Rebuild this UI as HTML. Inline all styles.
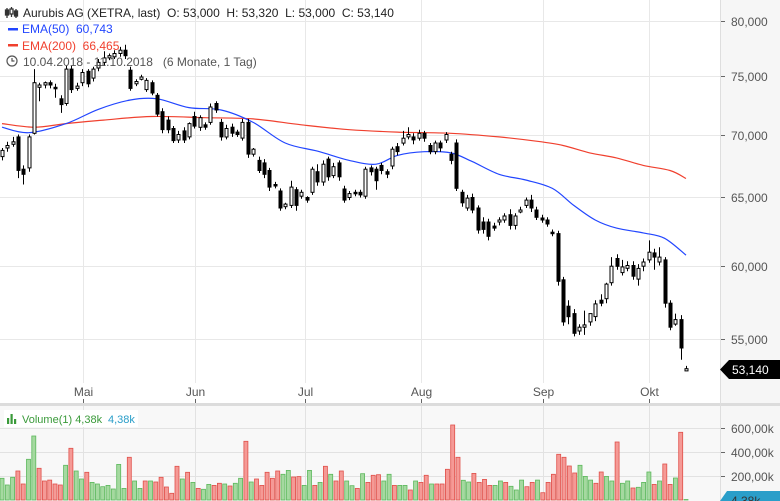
<!DOCTYPE html>
<html><head><meta charset="utf-8"><style>
body{margin:0;background:#fff;}
svg{display:block;font-family:"Liberation Sans",sans-serif;}
</style></head><body>
<svg id="chart" width="780" height="501" viewBox="0 0 780 501" xmlns="http://www.w3.org/2000/svg">
<rect x="0" y="0" width="780" height="501" fill="#fff"/>
<rect x="720" y="0" width="60" height="403" fill="#f6f6f6"/>
<rect x="0" y="406" width="720" height="95" fill="#f8f8f8"/>
<rect x="720" y="406" width="60" height="95" fill="#f6f6f6"/>
<rect x="0" y="403" width="780" height="3" fill="#dcdcdc"/>
<line x1="720.5" y1="0" x2="720.5" y2="501" stroke="#dedede"/>
<g id="grid"></g>
<g id="vol"></g>
<g id="ema"></g>
<g id="candles"></g>
<g id="axes"></g>
<g>
  <g stroke="#333" stroke-width="1.3">
    <line x1="7" y1="8" x2="7" y2="18"/><rect x="5.5" y="10" width="3" height="5" fill="#333"/>
    <line x1="11.5" y1="7" x2="11.5" y2="17"/><rect x="10" y="9" width="3" height="5" fill="#fff"/>
    <line x1="16" y1="9" x2="16" y2="18"/><rect x="14.5" y="11" width="3" height="5" fill="#333"/>
  </g>
  <text x="23" y="17" font-size="12" fill="#222" xml:space="preserve">Aurubis AG (XETRA, last)  O: 53,000  H: 53,320  L: 53,000  C: 53,140</text>
  <rect x="8" y="28" width="10" height="2.5" fill="#2246ff"/>
  <text x="22" y="33" font-size="12" fill="#2246ff" xml:space="preserve">EMA(50)  60,743</text>
  <rect x="8" y="44" width="10" height="2.5" fill="#f0402e"/>
  <text x="22" y="50" font-size="12" fill="#f0402e" xml:space="preserve">EMA(200)  66,465</text>
  <circle cx="12" cy="61" r="5" fill="none" stroke="#555" stroke-width="1.2"/>
  <path d="M12 58v3h2.5" fill="none" stroke="#555" stroke-width="1.2"/>
  <text x="23" y="66" font-size="12" fill="#555" xml:space="preserve">10.04.2018 - 11.10.2018   (6 Monate, 1 Tag)</text>
</g>
<g>
  <rect x="4" y="410" width="134" height="17" fill="#fff"/>
  <rect x="7" y="418" width="2.2" height="6" fill="#3a9a3a"/><rect x="10.5" y="414" width="2.2" height="10" fill="#3a9a3a"/><rect x="14" y="419" width="2.2" height="5" fill="#3a9a3a"/>
  <text x="22" y="423" font-size="11" fill="#3a9a3a">Volume(1)  4,38k</text>
  <text x="108" y="423" font-size="11" fill="#2a9ec9">4,38k</text>
</g>
<g>
  <path d="M720 369.5 L729 360 H780 V379 H729 Z" fill="#000"/>
  <text x="732" y="374" font-size="12" fill="#fff">53,140</text>
</g>
<g>
  <path d="M727 491 H780 V501 H720 Z" fill="#2a9ec9"/>
  <text x="731" y="505" font-size="12" fill="#333">4,38k</text>
</g>
</svg>
<script>
const opens=[68.2,68.9,69.2,69.8,67.2,67.3,70.1,74.0,74.2,74.4,74.0,73.0,72.6,75.6,73.9,74.4,75.4,74.8,75.7,76.2,76.6,76.7,77.0,77.3,75.5,74.3,74.7,73.8,74.4,73.3,71.9,71.2,70.5,69.55,70.3,69.8,71.5,70.6,70.8,71.0,72.6,71.0,69.8,70.6,70.2,69.7,71.0,68.4,67.9,67.7,67.1,66.0,65.5,64.3,64.4,65.6,65.1,65.0,65.4,67.0,66.2,68.0,66.7,67.7,65.65,65.0,65.4,65.4,65.1,67.3,67.2,67.5,67.0,67.45,69.0,69.3,69.8,69.8,69.7,70.1,69.1,68.6,69.3,69.55,68.4,69.3,65.4,64.2,65.0,64.2,63.15,63.15,62.85,63.15,63.3,63.7,62.9,63.9,64.4,64.8,64.05,63.45,63.3,62.4,62.3,59.0,57.2,56.7,55.55,55.8,56.15,56.5,57.6,57.7,58.8,60.5,59.5,59.8,60.0,59.05,59.95,60.4,60.9,60.25,60.4,57.4,56.0,56.3,53.0];
const closes=[68.7,69.1,69.4,67.1,66.8,69.8,74.4,74.2,74.4,74.2,73.9,72.5,75.6,73.8,74.1,75.3,74.3,75.6,76.2,76.6,76.8,77.0,77.3,76.8,73.9,74.5,74.9,74.6,73.5,71.7,70.4,70.4,69.5,70.0,69.55,70.9,70.7,71.4,70.6,72.3,72.05,69.8,70.5,70.1,70.0,71.0,68.4,68.8,67.1,66.8,65.8,65.9,64.2,64.5,65.8,64.4,65.4,64.8,67.2,66.2,67.6,66.6,67.4,66.6,64.8,65.3,65.3,65.2,67.2,67.0,66.3,67.1,66.8,68.8,68.6,69.7,70.0,69.55,70.1,69.7,68.6,69.3,68.9,70.0,67.9,65.7,64.6,64.95,64.05,62.56,62.6,62.1,62.7,63.3,63.6,62.9,63.6,64.05,64.8,64.2,63.5,63.3,63.0,62.3,58.9,56.15,56.5,55.4,55.8,55.95,56.7,57.35,57.4,58.7,59.95,59.95,59.9,60.0,59.25,59.8,60.25,60.95,60.6,60.6,57.4,55.8,56.3,54.45,53.14];
const highs=[68.9,69.4,69.8,70.0,67.5,70.0,75.6,74.4,74.5,74.6,74.3,73.3,75.9,75.9,74.4,75.6,75.6,75.8,76.5,77.2,77.0,77.3,77.6,77.8,75.8,74.7,75.1,74.8,74.6,73.5,72.2,71.5,70.7,70.3,70.6,71.0,71.9,71.6,71.0,72.6,72.8,71.3,70.8,70.9,70.4,71.3,71.3,68.9,68.2,68.0,67.3,66.2,65.7,64.6,66.3,65.8,65.6,65.1,67.4,67.6,67.9,68.2,67.7,67.9,65.9,65.5,65.6,65.6,67.4,67.5,67.4,67.7,67.2,69.0,69.3,70.3,70.6,70.1,70.4,70.3,69.3,69.5,69.5,70.2,68.6,69.6,65.6,65.2,65.3,64.4,63.5,63.4,63.1,63.5,63.8,64.1,63.8,64.3,65.0,65.2,64.3,63.7,63.5,62.6,62.5,59.2,57.6,57.0,56.0,56.9,56.5,57.6,58.0,58.8,60.6,60.8,60.4,60.3,60.3,60.1,60.5,61.8,61.2,61.3,60.6,57.6,56.7,56.6,53.32];
const lows=[67.9,68.6,69.0,66.5,66.0,67.0,70.0,72.8,73.9,73.9,73.1,71.8,72.4,73.5,73.7,74.1,74.0,74.5,75.4,75.9,76.4,76.5,76.7,76.5,73.7,74.1,74.6,73.6,73.3,71.5,70.1,70.1,69.3,69.3,69.3,69.6,70.5,70.3,70.4,70.8,71.8,69.5,69.6,69.8,69.8,69.5,68.1,68.2,66.9,66.5,65.5,65.7,64.0,64.1,64.2,64.0,64.9,64.6,65.2,65.9,65.9,66.3,66.5,66.3,64.6,64.8,65.1,65.0,64.9,66.7,65.6,66.8,66.5,67.2,68.3,69.1,69.6,69.2,69.5,69.4,68.4,68.4,68.6,69.3,67.6,65.5,64.3,64.0,63.8,62.3,62.3,61.8,62.5,62.9,63.1,62.6,62.6,63.8,64.2,63.9,63.3,63.1,62.8,62.1,58.6,55.9,56.0,55.2,55.3,55.3,55.9,56.2,57.2,57.4,58.6,59.7,59.3,59.6,59.0,58.6,59.6,60.2,59.7,60.0,57.1,55.6,55.9,53.7,53.0];
const volumes=[181,125,189,242,133,339,533,264,158,166,133,125,289,431,242,175,231,147,133,111,122,92,297,97,356,158,97,158,158,150,189,108,56,281,175,231,147,97,89,130,122,139,133,117,139,181,489,150,175,122,231,181,242,214,247,192,195,122,247,122,147,281,214,158,242,158,119,97,219,147,206,211,158,214,122,122,122,83,158,147,206,133,133,133,256,625,356,164,150,222,147,172,122,122,158,147,114,83,166,111,147,166,61,147,214,381,356,283,225,289,197,166,139,233,197,158,483,139,158,100,106,147,233,130,158,300,130,183,564,4.38];
const volUp=[1,1,1,0,0,1,1,0,0,0,0,0,1,0,1,1,0,1,1,1,1,1,1,1,0,1,1,0,1,0,0,0,0,0,1,0,1,0,1,1,0,0,1,0,1,1,0,1,0,0,0,0,0,1,1,0,0,1,1,0,1,0,1,0,0,1,1,0,1,0,0,0,1,1,0,1,1,0,1,0,0,1,0,0,0,0,0,1,1,0,0,0,0,1,1,0,1,1,1,0,0,1,0,0,0,0,0,0,0,1,1,1,0,0,1,1,0,1,1,0,1,1,1,0,1,0,0,1,0,1];
const ema50Idx=[0,5,12,18,24,29,35,41,47,53,59,65,70,74,79,84,88,93,98,103,107,111,115,120,124,128];
const ema50Val=[70.6,70.15,70.9,72.1,72.9,73.0,72.25,72.05,71.0,69.3,68.65,67.9,67.6,68.3,68.6,68.5,67.8,66.8,66.35,65.7,64.4,63.3,62.7,62.35,61.95,60.74];
const ema200Idx=[0,6,12,19,28,38,47,56,65,74,84,93,100,105,110,115,120,125,128];
const ema200Val=[70.9,70.6,70.9,71.2,71.5,71.4,71.3,70.8,70.4,70.2,70.1,69.8,69.45,69.1,68.5,68.1,67.5,67.1,66.47];
const priceTicks=[80,75,70,65,60,55];
const priceTickLabels=["80,000","75,000","70,000","65,000","60,000","55,000"];
const volTicks=[600,400,200];
const volTickLabels=["600,00k","400,00k","200,00k"];
const months=["Mai","Jun","Jul","Aug","Sep","Okt"];
const monthIdx=[15.2,36.2,56.7,78.5,101.3,121];

const NS="http://www.w3.org/2000/svg";
const N=closes.length;
const X0=2,X1=686;
function xs(i){return X0+i*(X1-X0)/(N-1);}
function ys(p){return 21+850*Math.log(80/p);}
function yv(v){return 500-v*0.12;}
function mk(tag,attrs,parent){const e=document.createElementNS(NS,tag);for(const k in attrs)e.setAttribute(k,attrs[k]);parent.appendChild(e);return e;}
const grid=document.getElementById('grid'),axes=document.getElementById('axes');
priceTicks.forEach((p,k)=>{
  const y=Math.round(ys(p))+0.5;
  const g=mk('line',{x1:0,x2:720,y1:y,y2:y,stroke:'#e8e8e8'},grid);
  
  
  mk('line',{x1:721,x2:725,y1:y,y2:y,stroke:'#666'},axes);
  const t=mk('text',{x:731,y:y+4.5,'font-size':12,fill:'#555'},axes);
  
  
  t.textContent=priceTickLabels[k];
});
volTicks.forEach((v,k)=>{
  const y=Math.round(yv(v))+0.5;
  const g=mk('line',{x1:0,x2:720,y1:y,y2:y,stroke:'#e2e2e2'},grid);
  
  
  mk('line',{x1:721,x2:725,y1:y,y2:y,stroke:'#666'},axes);
  const t=mk('text',{x:731,y:y+4.5,'font-size':12,fill:'#555'},axes);
  
  
  t.textContent=volTickLabels[k];
});
months.forEach((m,k)=>{
  const x=Math.round(xs(monthIdx[k]))+0.5;
  const g=mk('line',{x1:x,x2:x,y1:0,y2:383,stroke:'#e8e8e8'},grid);
  
  
  mk('line',{x1:x,x2:x,y1:406,y2:501,stroke:'#e2e2e2'},grid);
  mk('line',{x1:x,x2:x,y1:399,y2:403,stroke:'#666'},axes);
  const t=mk('text',{x:x,y:396,'font-size':12,fill:'#555','text-anchor':'middle'},axes);
  
  
  t.textContent=m;
});
const vol=document.getElementById('vol');
volumes.forEach((v,i)=>{
  const x=xs(i*(N-1)/(volumes.length-1));
  const y=yv(v);
  const up=volUp[i]===1;
  const r=mk('rect',{x:(x-2).toFixed(1),y:y.toFixed(1),width:4,height:Math.max(0.5,500-y).toFixed(1),fill:up?'#a5d9a0':'#f59a96',stroke:up?'#5cb85c':'#e0504a','stroke-width':0.8},vol);
  
  
});
const emaG=document.getElementById('ema');
function line(idx,val,color,name){
  const P=idx.map((ix,k)=>[xs(ix),ys(val[k])]);
  let d='M'+P[0][0].toFixed(1)+' '+P[0][1].toFixed(1);
  for(let k=0;k<P.length-1;k++){
    const p0=P[Math.max(0,k-1)],p1=P[k],p2=P[k+1],p3=P[Math.min(P.length-1,k+2)];
    const c1=[p1[0]+(p2[0]-p0[0])/6,p1[1]+(p2[1]-p0[1])/6];
    const c2=[p2[0]-(p3[0]-p1[0])/6,p2[1]-(p3[1]-p1[1])/6];
    d+=' C'+c1[0].toFixed(1)+' '+c1[1].toFixed(1)+' '+c2[0].toFixed(1)+' '+c2[1].toFixed(1)+' '+p2[0].toFixed(1)+' '+p2[1].toFixed(1);
  }
  const p=mk('path',{d:d,fill:'none',stroke:color,'stroke-width':1.2,'stroke-linejoin':'round'},emaG);
  
  
}
line(ema200Idx,ema200Val,'#f0402e','ema200-line');
line(ema50Idx,ema50Val,'#2246ff','ema50-line');
const cg=document.getElementById('candles');
for(let i=0;i<N;i++){
  const x=Math.round(xs(i))+0.5;
  const up=closes[i]>=opens[i];
  const g=mk('g',{},cg);
  
  
  mk('line',{x1:x,x2:x,y1:ys(highs[i]).toFixed(1),y2:ys(lows[i]).toFixed(1),stroke:'#000','stroke-width':1},g);
  const yt=ys(Math.max(opens[i],closes[i])),yb=ys(Math.min(opens[i],closes[i]));
  mk('rect',{x:x-1.5,y:yt.toFixed(1),width:3,height:Math.max(1.5,yb-yt).toFixed(1),fill:up?'#fff':'#000',stroke:'#000','stroke-width':1},g);
}
</script>
</body></html>
